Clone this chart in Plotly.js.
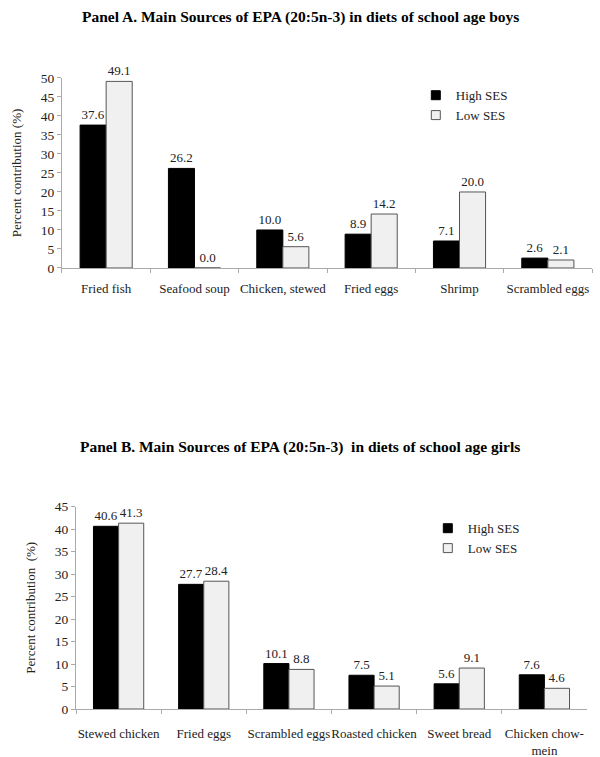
<!DOCTYPE html>
<html>
<head>
<meta charset="utf-8">
<script src="https://cdn.plot.ly/plotly-3.0.1.min.js"></script>
<style>html,body{margin:0;padding:0;background:#fff;}#chart{width:600px;height:757px;}</style>
</head>
<body>
<div id="chart"></div>
<script>
// Panel A data (boys)
const catsA = ["Fried fish", "Seafood soup", "Chicken, stewed", "Fried eggs", "Shrimp", "Scrambled eggs"];
const highA = [37.6, 26.2, 10.0, 8.9, 7.1, 2.6];
const lowA = [49.1, 0.0, 5.6, 14.2, 20.0, 2.1];
const yTicksA = [0, 5, 10, 15, 20, 25, 30, 35, 40, 45, 50];

// Panel B data (girls)
const catsB = ["Stewed chicken", "Fried eggs", "Scrambled eggs", "Roasted chicken", "Sweet bread", "Chicken chow-<br>mein"];
const highB = [40.6, 27.7, 10.1, 7.5, 5.6, 7.6];
const lowB = [41.3, 28.4, 8.8, 5.1, 9.1, 4.6];
const yTicksB = [0, 5, 10, 15, 20, 25, 30, 35, 40, 45];

const seriesNames = ["High SES", "Low SES"];
const titleA = "Panel A. Main Sources of EPA (20:5n-3) in diets of school age boys";
const titleB = "Panel B. Main Sources of EPA (20:5n-3)  in diets of school age girls";

const FONT = "'Liberation Serif'";
const txtFont = {family: FONT, size: 13, color: "#222"};
const HIGH_FILL = "#000000", LOW_FILL = "#f0f0f0", LOW_LINE = "#555555";

function barTrace(x, y, name, xa, ya, fill, line) {
  return {
    type: "bar", x: x, y: y, name: name, xaxis: xa, yaxis: ya,
    marker: {color: fill, line: {color: line, width: 1}},
    text: y.map(v => v.toFixed(1)), texttemplate: "%{text}", textposition: "outside",
    textfont: txtFont, cliponaxis: false, showlegend: false, hoverinfo: "skip"
  };
}
function legendTrace(name, xa, ya, legend, fill, line) {
  return {
    type: "scatter", mode: "markers", x: [null], y: [null], name: name, xaxis: xa, yaxis: ya,
    legend: legend, showlegend: true, hoverinfo: "skip",
    marker: {symbol: "square", size: 9, color: fill, line: {color: line, width: 1}}
  };
}

const data = [
  barTrace(catsA, highA, seriesNames[0], "x", "y", HIGH_FILL, HIGH_FILL),
  barTrace(catsA, lowA, seriesNames[1], "x", "y", LOW_FILL, LOW_LINE),
  barTrace(catsB, highB, seriesNames[0], "x2", "y2", HIGH_FILL, HIGH_FILL),
  barTrace(catsB, lowB, seriesNames[1], "x2", "y2", LOW_FILL, LOW_LINE),
  legendTrace(seriesNames[0], "x", "y", "legend", HIGH_FILL, HIGH_FILL),
  legendTrace(seriesNames[1], "x", "y", "legend", LOW_FILL, LOW_LINE),
  legendTrace(seriesNames[0], "x2", "y2", "legend2", HIGH_FILL, HIGH_FILL),
  legendTrace(seriesNames[1], "x2", "y2", "legend2", LOW_FILL, LOW_LINE)
];

const xCommon = {
  showgrid: false, zeroline: false, showline: true, linecolor: "#aaaaaa", linewidth: 1,
  ticks: "outside", tickson: "boundaries", tickcolor: "#aaaaaa", ticklen: 4, tickangle: 0,
  tickfont: {family: FONT, size: 13, color: "#222"}, fixedrange: true
};
const yCommon = {
  showgrid: false, zeroline: false, showline: true, linecolor: "#aaaaaa", linewidth: 1,
  ticks: "outside", tickcolor: "#aaaaaa", ticklen: 4,
  tickfont: {family: FONT, size: 13.5, color: "#222"}, fixedrange: true
};

const layout = {
  width: 600, height: 757,
  margin: {l: 0, r: 0, t: 0, b: 0},
  paper_bgcolor: "#ffffff", plot_bgcolor: "#ffffff",
  barmode: "group", bargap: 0.41, bargroupgap: 0,
  font: {family: FONT, color: "#222"},
  xaxis: Object.assign({}, xCommon, {domain: [0.1033, 0.9867], anchor: "y", ticklabelstandoff: 8}),
  yaxis: Object.assign({}, yCommon, {domain: [0.6460, 0.8970], anchor: "x", range: [0, 50],
    tickvals: yTicksA, ticktext: yTicksA.map(String),
    title: {text: "Percent contribution (%)", font: {family: FONT, size: 13, color: "#222"}, standoff: 16}}),
  xaxis2: Object.assign({}, xCommon, {domain: [0.1267, 0.9783], anchor: "y2", ticklabelstandoff: 12}),
  yaxis2: Object.assign({}, yCommon, {domain: [0.0634, 0.3309], anchor: "x2", range: [0, 45],
    tickvals: yTicksB, ticktext: yTicksB.map(String),
    title: {text: "Percent contribution  (%)", font: {family: FONT, size: 13, color: "#222"}, standoff: 16}}),
  legend: {x: 0.693, y: 0.894, xanchor: "left", yanchor: "top", bgcolor: "rgba(0,0,0,0)",
    font: {family: FONT, size: 13, color: "#222"}, itemwidth: 30, tracegroupgap: 0},
  legend2: {x: 0.713, y: 0.322, xanchor: "left", yanchor: "top", bgcolor: "rgba(0,0,0,0)",
    font: {family: FONT, size: 13, color: "#222"}, itemwidth: 30, tracegroupgap: 0},
  annotations: [
    {text: "<b>" + titleA + "</b>", xref: "paper", yref: "paper", x: 0.5, y: 1 - 17 / 757,
     xanchor: "center", yanchor: "middle", showarrow: false, font: {family: FONT, size: 15.5, color: "#000"}},
    {text: "<b>" + titleB + "</b>", xref: "paper", yref: "paper", x: 0.5, y: 1 - 447 / 757,
     xanchor: "center", yanchor: "middle", showarrow: false, font: {family: FONT, size: 15.5, color: "#000"}}
  ]
};

Plotly.newPlot("chart", data, layout, {displayModeBar: false, staticPlot: true});
</script>
</body>
</html>
